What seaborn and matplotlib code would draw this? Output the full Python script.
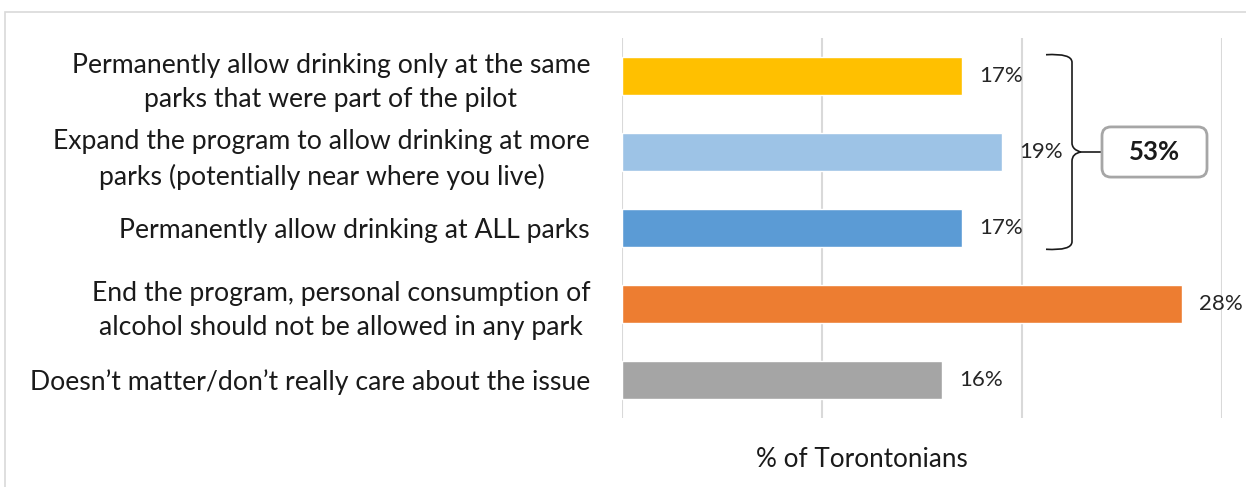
import matplotlib
matplotlib.use("Agg")
import matplotlib.pyplot as plt
import seaborn as sns
import pandas as pd
from matplotlib.path import Path
from matplotlib.patches import PathPatch, FancyBboxPatch, Rectangle

categories = [
    "Permanently allow drinking only at the same\nparks that were part of the pilot",
    "Expand the program to allow drinking at more\nparks (potentially near where you live)",
    "Permanently allow drinking at ALL parks",
    "End the program, personal consumption of\nalcohol should not be allowed in any park",
    "Doesn\u2019t matter/don\u2019t really care about the issue",
]
values = [17, 19, 17, 28, 16]
colors = ["#FFC000", "#9DC3E6", "#5B9BD5", "#ED7D31", "#A5A5A5"]
combined_label = "53%"
x_label = "% of Torontonians"

sns.set_style("white")
plt.rcParams["font.family"] = ["Lato", "DejaVu Sans"]

df = pd.DataFrame({"category": categories, "value": values})

fig = plt.figure(figsize=(12.46, 4.87), dpi=100)
ax = fig.add_axes([622 / 1246, 1 - 418 / 487, 600 / 1246, 380 / 487])

sns.barplot(data=df, x="value", y="category", hue="category",
            palette=colors, orient="h", width=0.5, legend=False, ax=ax,
            saturation=1, zorder=3)

ax.set_xlim(0, 30)
ax.set_ylim(4.5, -0.5)
ax.set_xticks([0, 10, 20, 30])
ax.set_xticklabels([])
ax.tick_params(axis="both", length=0)
ax.grid(axis="x", color="#D9D9D9", linewidth=1.5, zorder=0)
for s in ax.spines.values():
    s.set_visible(False)
ax.set_ylabel("")
ax.set_xlabel(x_label, fontsize=18.8, color="#1a1a1a")
ax.xaxis.set_label_coords(0.4, -0.11)
ax.xaxis.label.set_verticalalignment("center")
for lbl in ax.get_yticklabels():
    lbl.set_fontsize(19.2)
    lbl.set_color("#1a1a1a")
    lbl.set_horizontalalignment("right")
    lbl.set_multialignment("center")
    lbl.set_linespacing(1.45)
ax.tick_params(axis="y", pad=23)

# value labels
for i, v in enumerate(values):
    ax.text(v + 0.85, i, f"{v}%", va="center", ha="left", fontsize=16,
            color="#262626")

# brace grouping the first three options
y0, y1 = -0.28, 2.28
ym = 1.0
xa, xv, xt = 21.2, 22.5, 22.95
verts = [
    (xa, y0), (xv, y0 - 0.02), (xv, y0 + 0.1),
    (xv, ym - 0.12),
    (xv, ym - 0.02), (xt, ym), (xt, ym),
    (xv, ym + 0.02), (xv, ym + 0.12),
    (xv, y1 - 0.1),
    (xv, y1 + 0.02), (xa, y1),
]
codes = [Path.MOVETO, Path.CURVE3, Path.CURVE3,
         Path.LINETO,
         Path.CURVE4, Path.CURVE4, Path.CURVE4,
         Path.CURVE3, Path.CURVE3,
         Path.LINETO,
         Path.CURVE3, Path.CURVE3]
ax.add_patch(PathPatch(Path(verts, codes), fill=False, ec="#1a1a1a",
                       lw=1.2, clip_on=False, zorder=4))
ax.plot([xt, 24.0], [ym, ym], color="#1a1a1a", lw=1.2, clip_on=False, zorder=4)

box = FancyBboxPatch((24.0, 0.67), 5.25, 0.66,
                     boxstyle="round,pad=0,rounding_size=0.45",
                     mutation_aspect=20 / 76, fc="white", ec="#A6A6A6",
                     lw=2, clip_on=False, zorder=5)
ax.add_patch(box)
ax.text(24.0 + 5.25 / 2, ym, combined_label, ha="center", va="center",
        fontsize=18.5, fontweight="bold", color="#1a1a1a", zorder=6)

# outer frame
fig.patches.append(Rectangle((5 / 1246, -0.05), 1.2, 1 - 12 / 487 + 0.05,
                             transform=fig.transFigure, fill=False,
                             ec="#D9D9D9", lw=1.2))

fig.savefig("out.png", dpi=100)
